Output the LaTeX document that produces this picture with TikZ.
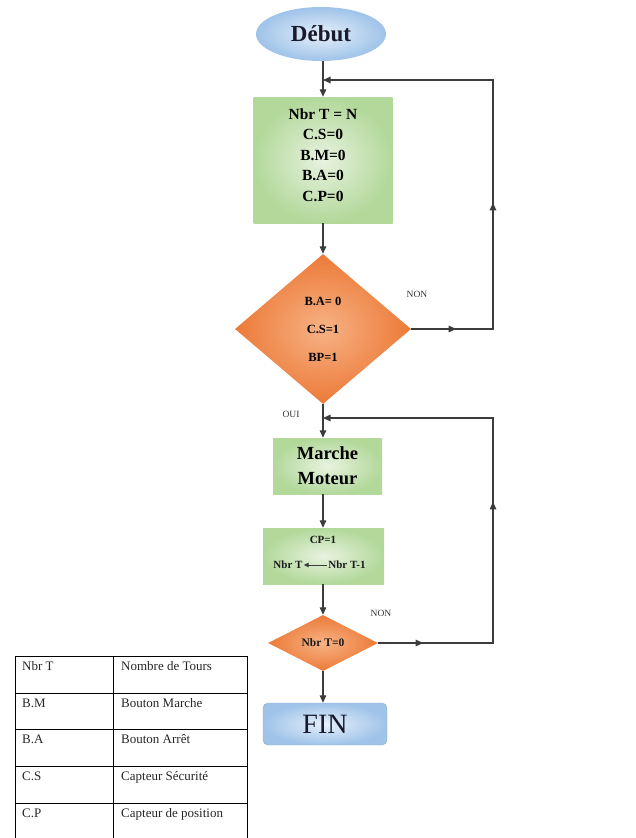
\documentclass[tikz,border=0pt]{standalone}
\usepackage{fontspec}
\setmainfont{Liberation Serif}
\usetikzlibrary{shapes.geometric,arrows.meta,decorations.markings}

\definecolor{linec}{HTML}{3C3C3C}
\definecolor{greenin}{HTML}{E8F3E0}
\definecolor{greenout}{HTML}{B2D89A}
\definecolor{orin}{HTML}{F7B285}
\definecolor{orout}{HTML}{EC7A38}
\definecolor{bluein}{HTML}{E6F0FA}
\definecolor{blueout}{HTML}{9FC3E9}
\definecolor{titlec}{HTML}{1A1A2E}

\begin{document}
\begin{tikzpicture}[x=1pt,y=-1pt,
  flow/.style={draw=linec, line width=1.3pt},
  tip/.style={-{Triangle[length=7.5pt,width=6.5pt]}},
  arrowat/.style={postaction={decorate,
      decoration={markings, mark=at position #1 with {\arrow{Triangle[length=7.5pt,width=6.5pt]}}}}},
  greenbox/.style={shade, inner color=greenin, outer color=greenout, inner sep=0pt},
  orangedia/.style={diamond, shade, inner color=orin, outer color=orout, inner sep=0pt},
  bold/.style={font=\bfseries\fontsize{#1}{#1}\selectfont, text=black!90},
  lbl/.style={font=\fontsize{9.5}{10}\selectfont, text=black!80},
  tab/.style={draw=black, line width=0.9pt},
  cell/.style={anchor=base west, inner sep=0pt, font=\fontsize{13}{14}\selectfont, text=black!85}]

\useasboundingbox (0,0) rectangle (636,838);

% start
\node[ellipse, shade, inner color=bluein, outer color=blueout, minimum width=130pt, minimum height=54pt,
      inner sep=0pt, font=\bfseries\fontsize{23}{25}\selectfont, text=titlec] (deb) at (321,34) {Début};

% initialisation
\node[greenbox, minimum width=139pt, minimum height=126pt] (b1) at (323,160) {};
\node[font=\bfseries\fontsize{15.5}{20.5}\selectfont, align=center, inner sep=0pt] (b1t) at (323,155)
  {Nbr T = N\\C.S=0\\B.M=0\\B.A=0\\C.P=0};

% first test
\node[orangedia, minimum width=176pt, minimum height=150pt] (d1) at (323,329) {};
\node[font=\bfseries\fontsize{12.5}{28}\selectfont, align=center, inner sep=0pt] (d1t) at (323,329)
  {B.A= 0\\C.S=1\\BP=1};

% motor on
\node[greenbox, minimum width=109pt, minimum height=56pt, align=center,
      font=\bfseries\fontsize{18.5}{25}\selectfont] (b2) at (327.5,466) {Marche\\Moteur};

% counter update
\node[greenbox, minimum width=121pt, minimum height=56pt] (b3) at (323.5,556) {};
\node[bold=11, inner sep=0pt] (b3a) at (323,540) {CP=1};
\node[bold=11, inner sep=1pt] (b3l) at (288,565) {Nbr T};
\node[bold=11, inner sep=1pt] (b3r) at (347,565) {Nbr T-1};
\draw[draw=linec, line width=0.9pt, -{Triangle[length=5pt,width=4.5pt]}] (b3r.west) -- (b3l.east);

% second test
\node[orangedia, minimum width=110pt, minimum height=56pt] (d2) at (323,643) {};
\node[bold=11.5, inner sep=0pt] (d2t) at (323,643) {Nbr T=0};

% end
\node[shade, inner color=bluein, outer color=blueout, rounded corners=5pt, draw=blueout!90!black,
      line width=0.4pt, minimum width=124pt, minimum height=42pt, inner sep=0pt,
      font=\fontsize{28}{30}\selectfont, text=titlec] (fin) at (325,724) {FIN};

% main flow
\draw[flow,tip] (deb.south -| b1.north) -- (b1.north);
\draw[flow,tip] (b1.south) -- (d1.north);
\draw[flow,tip] (d1.south) -- (d1.south |- b2.north);
\draw[flow,tip] (d1.south |- b2.south) -- (b3.north -| d1.south);
\draw[flow,tip] (b3.south -| d1.south) -- (d2.north);
\draw[flow,tip] (d2.south) -- (d2.south |- fin.north);

% return loops
\coordinate (r1b) at (493,329);
\coordinate (r1t) at (493,80);
\coordinate (j1) at (323,80);
\draw[flow, tip, arrowat=45pt, arrowat=208pt] (d1.east) -- (r1b) -- (r1t) -- (j1);

\coordinate (r2b) at (493,643);
\coordinate (r2t) at (493,418);
\coordinate (j2) at (323,418);
\draw[flow, tip, arrowat=45pt, arrowat=256pt] (d2.east) -- (r2b) -- (r2t) -- (j2);

% branch labels
\node[lbl] (non1) at (417,294) {NON};
\node[lbl] (oui) at (291,414) {OUI};
\node[lbl] (non2) at (381,613) {NON};

% legend table
\draw[tab] (15,838) -- (15,656) -- (247,656) -- (247,838);
\draw[tab] (113,656) -- (113,838);
\foreach \yy in {693,729,766,803} \draw[tab] (15,\yy) -- (247,\yy);

\node[cell] (k1) at (22,670) {Nbr T};
\node[cell] (v1) at (121,670) {Nombre de Tours};
\node[cell] (k2) at (22,707) {B.M};
\node[cell] (v2) at (121,707) {Bouton Marche};
\node[cell] (k3) at (22,743) {B.A};
\node[cell] (v3) at (121,743) {Bouton Arrêt};
\node[cell] (k4) at (22,780) {C.S};
\node[cell] (v4) at (121,780) {Capteur Sécurité};
\node[cell] (k5) at (22,817) {C.P};
\node[cell] (v5) at (121,817) {Capteur de position};
\end{tikzpicture}
\end{document}
